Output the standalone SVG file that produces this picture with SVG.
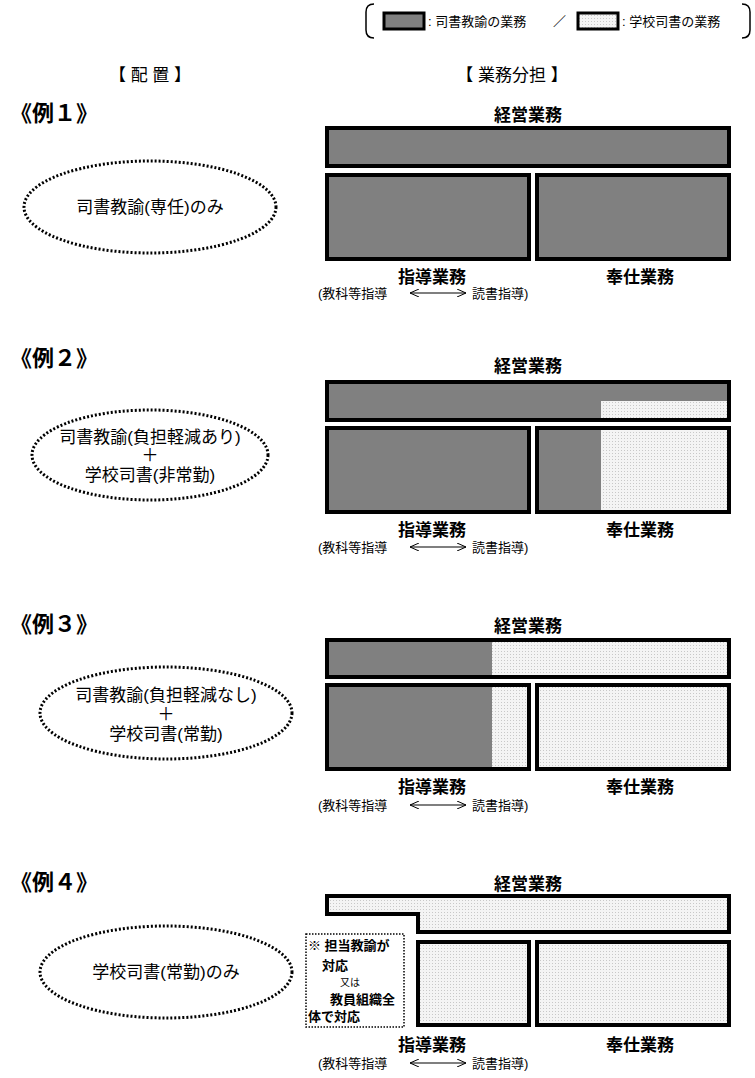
<svg xmlns="http://www.w3.org/2000/svg" width="755" height="1078" viewBox="0 0 755 1078">
<style>
text{font-family:"Liberation Sans","Noto Sans CJK JP",sans-serif;fill:#000}
.g{fill:#808080}
.l{fill:url(#dots)}
.o{fill:none;stroke:#000;stroke-width:4}
.t{font-size:17px;font-weight:bold;text-anchor:middle}
.s{font-size:13px}
.ex{font-size:22px;font-weight:bold}
.el{fill:#fff;stroke:#000;stroke-width:3;stroke-dasharray:2 2}
.c{font-size:17px;text-anchor:middle}
</style>
<defs>
<pattern id="dots" width="3" height="3" patternUnits="userSpaceOnUse"><rect width="3" height="3" fill="#f4f4f4"/><rect width="1" height="1" fill="#c8c8c8"/></pattern>
<marker id="ah" markerWidth="10" markerHeight="8" refX="9" refY="4" orient="auto-start-reverse" markerUnits="userSpaceOnUse"><path d="M0,0 L9,4 L0,8" fill="none" stroke="#000"/></marker>
</defs>
<g id="legend">
<path d="M374,4 Q366,4 366,12 L366,30 Q366,38 374,38" fill="none" stroke="#000" stroke-width="1.5"/>
<path d="M742,4 Q750,4 750,12 L750,30 Q750,38 742,38" fill="none" stroke="#000" stroke-width="1.5"/>
<rect x="384" y="13" width="40" height="16" class="g" stroke="#000" stroke-width="3"/>
<text x="428" y="26" font-size="13">: 司書教諭の業務</text>
<text x="553" y="26" font-size="13">／</text>
<rect x="578" y="13" width="40" height="16" class="l" stroke="#000" stroke-width="3"/>
<text x="622" y="26" font-size="13">: 学校司書の業務</text>
</g>
<text x="150" y="81" class="c" font-size="15">【 配 置 】</text>
<text x="512" y="81" class="c" font-size="15">【 業務分担 】</text>

<g id="ex1">
<text x="10" y="121" class="ex">《例１》</text>
<ellipse cx="150" cy="207" rx="126" ry="46" class="el"/>
<text x="150" y="213" class="c">司書教諭(専任)のみ</text>
<text x="528" y="121" class="t">経営業務</text>
<rect x="327" y="128" width="402" height="38" class="g"/><rect x="327" y="128" width="402" height="38" class="o"/>
<rect x="327" y="175" width="202" height="84" class="g"/><rect x="327" y="175" width="202" height="84" class="o"/>
<rect x="537" y="175" width="192" height="84" class="g"/><rect x="537" y="175" width="192" height="84" class="o"/>
<text x="432" y="283" class="t">指導業務</text><text x="640" y="283" class="t">奉仕業務</text>
<text x="318" y="298" class="s">(教科等指導</text><text x="472" y="298" class="s">読書指導)</text>
</g>

<g id="ex2">
<text x="10" y="366" class="ex">《例２》</text>
<ellipse cx="150" cy="455" rx="118" ry="45" class="el"/>
<text x="150" y="443" class="c">司書教諭(負担軽減あり)</text>
<text x="150" y="461" class="c">＋</text>
<text x="150" y="481" class="c">学校司書(非常勤)</text>
<text x="528" y="372" class="t">経営業務</text>
<rect x="327" y="382" width="402" height="38" class="g"/><rect x="601" y="401" width="128" height="19" class="l"/><rect x="327" y="382" width="402" height="38" class="o"/>
<rect x="327" y="428" width="202" height="84" class="g"/><rect x="327" y="428" width="202" height="84" class="o"/>
<rect x="537" y="428" width="64" height="84" class="g"/><rect x="601" y="428" width="128" height="84" class="l"/><rect x="537" y="428" width="192" height="84" class="o"/>
<text x="432" y="536" class="t">指導業務</text><text x="640" y="536" class="t">奉仕業務</text>
<text x="318" y="552" class="s">(教科等指導</text><text x="472" y="552" class="s">読書指導)</text>
</g>

<g id="ex3">
<text x="10" y="632" class="ex">《例３》</text>
<ellipse cx="166" cy="713" rx="126" ry="46" class="el"/>
<text x="166" y="701" class="c">司書教諭(負担軽減なし)</text>
<text x="166" y="720" class="c">＋</text>
<text x="166" y="740" class="c">学校司書(常勤)</text>
<text x="528" y="632" class="t">経営業務</text>
<rect x="327" y="640" width="165" height="37" class="g"/><rect x="492" y="640" width="237" height="37" class="l"/><rect x="327" y="640" width="402" height="37" class="o"/>
<rect x="327" y="685" width="165" height="84" class="g"/><rect x="492" y="685" width="37" height="84" class="l"/><rect x="327" y="685" width="202" height="84" class="o"/>
<rect x="537" y="685" width="192" height="84" class="l"/><rect x="537" y="685" width="192" height="84" class="o"/>
<text x="432" y="793" class="t">指導業務</text><text x="640" y="793" class="t">奉仕業務</text>
<text x="318" y="810" class="s">(教科等指導</text><text x="472" y="810" class="s">読書指導)</text>
</g>

<g id="ex4">
<text x="10" y="890" class="ex">《例４》</text>
<ellipse cx="166" cy="972" rx="126" ry="46" class="el"/>
<text x="166" y="978" class="c">学校司書(常勤)のみ</text>
<text x="528" y="890" class="t">経営業務</text>
<path d="M327,896 H729 V932 H418 V914 H327 Z" class="l" stroke="#000" stroke-width="4"/>
<rect x="418" y="942" width="111" height="83" class="l"/><rect x="418" y="942" width="111" height="83" class="o"/>
<rect x="537" y="942" width="192" height="83" class="l"/><rect x="537" y="942" width="192" height="83" class="o"/>
<rect x="306" y="934" width="98" height="93" fill="#fff" stroke="#000" stroke-width="1.5" stroke-dasharray="1.5 1.5"/>
<text x="308" y="950" font-size="13" font-weight="bold">※ 担当教諭が</text>
<text x="322" y="970" font-size="13" font-weight="bold">対応</text>
<text x="340" y="986" font-size="10">又は</text>
<text x="330" y="1004" font-size="13" font-weight="bold">教員組織全</text>
<text x="308" y="1021" font-size="13" font-weight="bold">体で対応</text>
<text x="432" y="1051" class="t">指導業務</text><text x="640" y="1051" class="t">奉仕業務</text>
<text x="318" y="1068" class="s">(教科等指導</text><text x="472" y="1068" class="s">読書指導)</text>
</g>

<g id="connectors" stroke="#000" stroke-width="1.2" fill="none">
<line x1="410" y1="293" x2="466" y2="293" marker-start="url(#ah)" marker-end="url(#ah)"/>
<line x1="410" y1="547" x2="466" y2="547" marker-start="url(#ah)" marker-end="url(#ah)"/>
<line x1="410" y1="805" x2="466" y2="805" marker-start="url(#ah)" marker-end="url(#ah)"/>
<line x1="410" y1="1063" x2="466" y2="1063" marker-start="url(#ah)" marker-end="url(#ah)"/>
</g>
</svg>
